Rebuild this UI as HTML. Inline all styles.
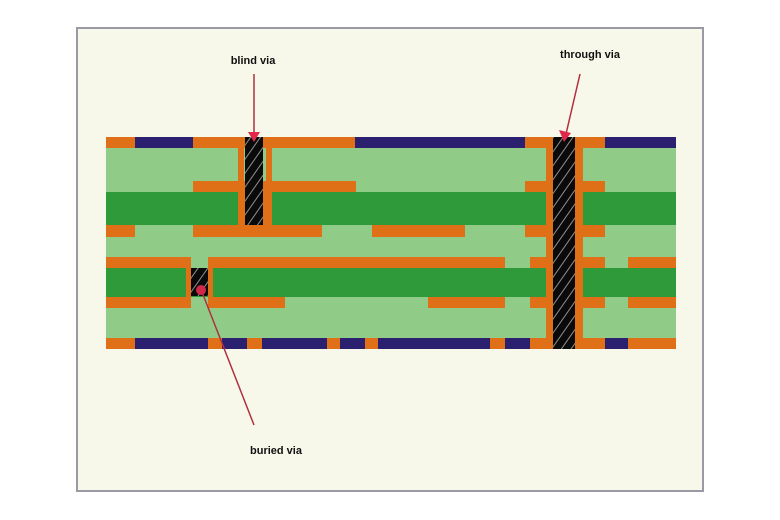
<!DOCTYPE html>
<html><head><meta charset="utf-8"><style>
html,body{margin:0;padding:0;background:#fff;width:780px;height:520px;overflow:hidden}
</style></head><body>
<svg width="780" height="520" viewBox="0 0 780 520" xmlns="http://www.w3.org/2000/svg">
<defs>
<pattern id="hatch" patternUnits="userSpaceOnUse" width="8" height="8" patternTransform="rotate(-55)">
<rect width="8" height="8" fill="#0a0a0a"/>
<line x1="0" y1="4" x2="8" y2="4" stroke="#b0b0b0" stroke-width="0.8"/>
</pattern>
</defs>
<rect x="77" y="28" width="626" height="463" fill="#f8f8ea" stroke="#9a9aa6" stroke-width="2"/>
<!-- body -->
<rect x="106" y="137" width="570" height="212" fill="#90cc88"/>
<!-- top layer -->
<g>
<rect x="106" y="137" width="570" height="11" fill="#2b2070"/>
<rect x="106" y="137" width="29" height="11" fill="#e07018"/>
<rect x="193" y="137" width="162" height="11" fill="#e07018"/>
<rect x="525" y="137" width="80" height="11" fill="#e07018"/>
</g>
<!-- layer 2 -->
<rect x="193" y="181" width="163" height="11" fill="#e07018"/>
<rect x="525" y="181" width="80" height="11" fill="#e07018"/>
<rect x="106" y="192" width="570" height="33" fill="#2e9a3a"/>
<!-- layer 3 -->
<rect x="106" y="225" width="29" height="12" fill="#e07018"/>
<rect x="193" y="225" width="129" height="12" fill="#e07018"/>
<rect x="372" y="225" width="93" height="12" fill="#e07018"/>
<rect x="525" y="225" width="80" height="12" fill="#e07018"/>
<!-- layer 4 -->
<rect x="106" y="257" width="84" height="11" fill="#e07018"/>
<rect x="208" y="257" width="297" height="11" fill="#e07018"/>
<rect x="530" y="257" width="75" height="11" fill="#e07018"/>
<rect x="628" y="257" width="48" height="11" fill="#e07018"/>
<rect x="106" y="268" width="570" height="29" fill="#2e9a3a"/>
<!-- layer 5 -->
<rect x="106" y="297" width="84" height="11" fill="#e07018"/>
<rect x="208" y="297" width="77" height="11" fill="#e07018"/>
<rect x="428" y="297" width="77" height="11" fill="#e07018"/>
<rect x="530" y="297" width="75" height="11" fill="#e07018"/>
<rect x="628" y="297" width="48" height="11" fill="#e07018"/>
<!-- bottom layer -->
<rect x="106" y="338" width="570" height="11" fill="#2b2070"/>
<rect x="106" y="338" width="29" height="11" fill="#e07018"/>
<rect x="208" y="338" width="14" height="11" fill="#e07018"/>
<rect x="247" y="338" width="15" height="11" fill="#e07018"/>
<rect x="327" y="338" width="13" height="11" fill="#e07018"/>
<rect x="365" y="338" width="13" height="11" fill="#e07018"/>
<rect x="490" y="338" width="15" height="11" fill="#e07018"/>
<rect x="530" y="338" width="75" height="11" fill="#e07018"/>
<rect x="628" y="338" width="48" height="11" fill="#e07018"/>
<!-- blind via -->
<rect x="238" y="137" width="34" height="100" fill="#e07018"/>
<rect x="238" y="148" width="34" height="33" fill="#90cc88"/>
<rect x="238" y="148" width="6" height="89" fill="#e07018"/>
<rect x="266" y="148" width="6" height="89" fill="#e07018"/>
<rect x="245" y="137" width="18" height="88" fill="url(#hatch)"/>
<!-- buried via -->
<rect x="186" y="257" width="5" height="51" fill="#e07018"/>
<rect x="208" y="257" width="5" height="51" fill="#e07018"/>
<rect x="191" y="257" width="17" height="11" fill="#90cc88"/>
<rect x="191" y="268" width="17" height="28" fill="url(#hatch)"/>
<!-- through via -->
<rect x="546" y="137" width="37" height="212" fill="#e07018"/>
<rect x="553" y="137" width="22" height="212" fill="url(#hatch)"/>
<!-- arrows -->
<g stroke="#b03040" stroke-width="1.5" fill="none">
<line x1="254" y1="74" x2="254" y2="136"/>
<line x1="580" y1="74" x2="566" y2="134"/>
<line x1="254" y1="425" x2="202" y2="292"/>
</g>
<polygon points="248,132 260,132 254,142" fill="#e0284a"/>
<polygon points="559,130 571,133 564,142" fill="#e0284a"/>
<circle cx="201" cy="290" r="5" fill="#d02848"/>
<g font-family="Liberation Sans, sans-serif" font-size="11" font-weight="bold" fill="#111">
<text x="253" y="64" text-anchor="middle">blind via</text>
<text x="590" y="58" text-anchor="middle">through via</text>
<text x="276" y="454" text-anchor="middle">buried via</text>
</g>
</svg>
</body></html>
